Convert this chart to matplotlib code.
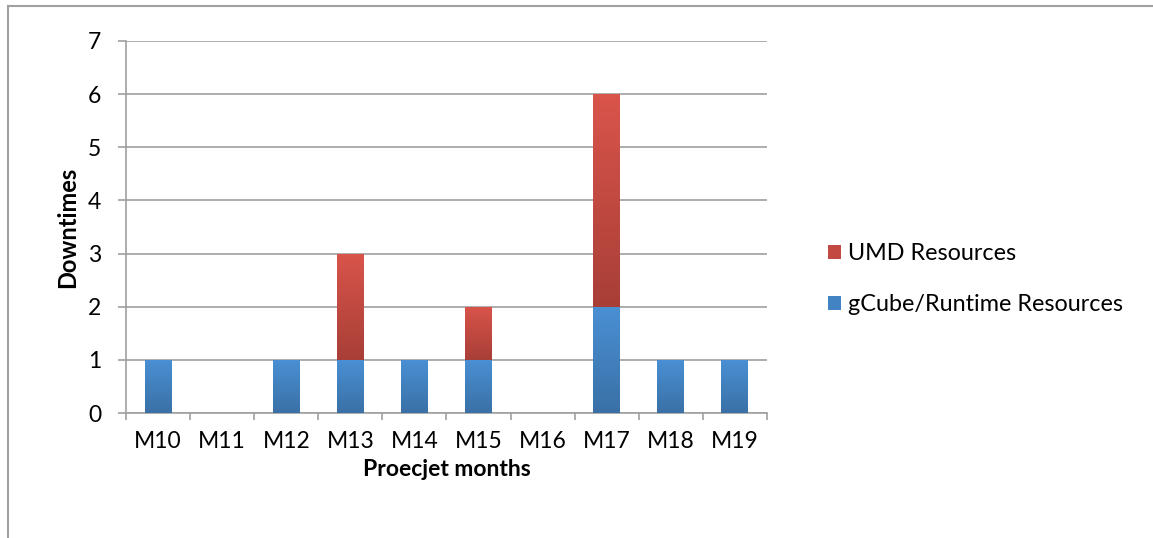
import numpy as np
import matplotlib
matplotlib.use("Agg")
import matplotlib.pyplot as plt
from matplotlib.colors import LinearSegmentedColormap
from matplotlib.patches import Patch
from matplotlib.lines import Line2D

plt.rcParams['font.family'] = ['Lato', 'DejaVu Sans']

months = ["M10", "M11", "M12", "M13", "M14", "M15", "M16", "M17", "M18", "M19"]
gcube = [1, 0, 1, 1, 1, 1, 0, 2, 1, 1]
umd = [0, 0, 0, 2, 0, 1, 0, 4, 0, 0]

blue_cmap = LinearSegmentedColormap.from_list("b", ["#3a70a6", "#4a90d4"])
red_cmap = LinearSegmentedColormap.from_list("r", ["#a83f37", "#d9544b"])

fig = plt.figure(figsize=(11.53, 5.38), dpi=100)
ax = fig.add_axes([0.1093, 0.2323, 0.5559, 0.6915])

x = np.arange(len(months))
width = 0.42
grad = np.linspace(0, 1, 64).reshape(-1, 1)


def gradient_bars(bars, cmap):
    for b in bars:
        h = b.get_height()
        if h <= 0:
            continue
        x0, y0 = b.get_x(), b.get_y()
        im = ax.imshow(grad, cmap=cmap, origin="lower", aspect="auto",
                       extent=[x0, x0 + b.get_width(), y0, y0 + h], zorder=3)
        im.set_clip_path(b)
        b.set_alpha(0)


b1 = ax.bar(x, gcube, width, zorder=3, linewidth=0)
b2 = ax.bar(x, umd, width, bottom=gcube, zorder=3, linewidth=0)
gradient_bars(b1, blue_cmap)
gradient_bars(b2, red_cmap)

ax.set_xlim(-0.5, len(months) - 0.5)
ax.set_ylim(0, 7)
ax.set_yticks(range(0, 8))
ax.set_xticks(x)
ax.set_xticklabels(months)
ax.set_xticks(np.arange(-0.5, len(months), 1), minor=True)
ax.tick_params(axis="x", which="major", length=0, pad=13, labelsize=16.5)
ax.tick_params(axis="x", which="minor", length=5, width=1.2, color="#a0a0a0")
ax.tick_params(axis="y", length=6, width=1.2, color="#a0a0a0", pad=12, labelsize=16.5)

ax.grid(axis="y", color="#a0a0a0", linewidth=1.2, zorder=0)
ax.set_axisbelow(True)
for s in ["top", "right"]:
    ax.spines[s].set_visible(False)
for s in ["left", "bottom"]:
    ax.spines[s].set_color("#a0a0a0")
    ax.spines[s].set_linewidth(1.2)

ax.set_xlabel("Proecjet months", fontsize=16.5, fontweight="bold", labelpad=5)
ax.set_ylabel("Downtimes", fontsize=17, fontweight="bold", labelpad=6)

handles = [Patch(facecolor="#c24a42", label="UMD Resources"),
           Patch(facecolor="#4283c4", label="gCube/Runtime Resources")]
fig.legend(handles=handles, loc="center left", bbox_to_anchor=(0.700, 0.481),
           frameon=False, fontsize=16.8, handlelength=0.55, handleheight=0.55,
           handletextpad=0.3, labelspacing=1.3)

# chart frame (top and left edges visible)
fig.add_artist(Line2D([8 / 1153, 8 / 1153], [0, 1 - 6 / 538], transform=fig.transFigure,
                      color="#a0a0a0", linewidth=1.5))
fig.add_artist(Line2D([8 / 1153, 1], [1 - 6 / 538, 1 - 6 / 538], transform=fig.transFigure,
                      color="#a0a0a0", linewidth=1.5))

fig.savefig("out.png", dpi=100, facecolor="white")
